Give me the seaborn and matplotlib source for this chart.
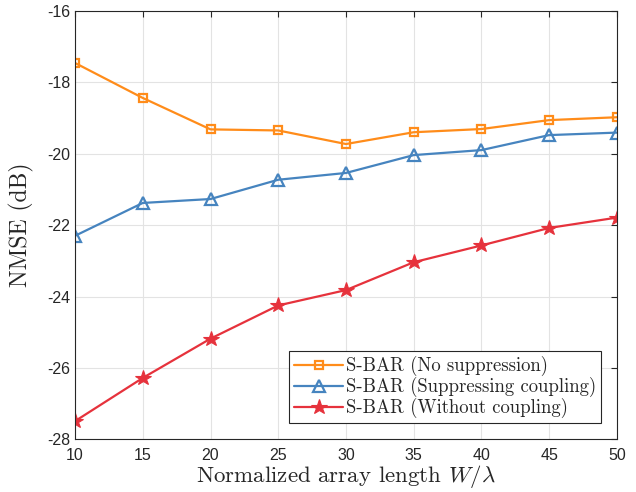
import numpy as np
import pandas as pd
import matplotlib
matplotlib.use("Agg")
import matplotlib.pyplot as plt
import seaborn as sns

# data
array_len = [10, 15, 20, 25, 30, 35, 40, 45, 50]
no_suppression = [-17.46, -18.44, -19.32, -19.35, -19.73, -19.40, -19.31, -19.06, -18.98]
suppressing = [-22.30, -21.38, -21.27, -20.73, -20.54, -20.04, -19.90, -19.48, -19.41]
without_coupling = [-27.49, -26.28, -25.18, -24.25, -23.82, -23.04, -22.57, -22.08, -21.79]

labels = ["S-BAR (No suppression)", "S-BAR (Suppressing coupling)", "S-BAR (Without coupling)"]
colors = ["#FF8C1A", "#4684BF", "#E6323C"]
markers = ["s", "^", "*"]
msizes = [6, 8, 11.5]

rows = []
for lab, vals in zip(labels, [no_suppression, suppressing, without_coupling]):
    for x, y in zip(array_len, vals):
        rows.append({"W": x, "NMSE": y, "scheme": lab})
df = pd.DataFrame(rows)

sns.set_theme(style="whitegrid")
plt.rcParams["font.family"] = ["Liberation Sans", "DejaVu Sans"]
plt.rcParams["mathtext.fontset"] = "cm"

fig = plt.figure(figsize=(6.36, 4.92), dpi=100)
ax = fig.add_axes([0.118, 0.107, 0.852, 0.871])

sns.lineplot(
    data=df, x="W", y="NMSE", hue="scheme", style="scheme",
    palette=colors, markers=markers, dashes=False, linewidth=1.6,
    legend=False, ax=ax,
)

for i, (line, ms) in enumerate(zip(ax.lines, msizes)):
    line.set_markersize(ms)
    line.set_markeredgewidth(1.6)
    line.set_markeredgecolor(colors[i])
    if i < 2:
        line.set_markerfacecolor("none")
    else:
        line.set_markerfacecolor(colors[i])
        line.set_markeredgewidth(0.8)

ax.set_xlim(10, 50)
ax.set_ylim(-28, -16)
ax.set_xticks(np.arange(10, 51, 5))
ax.set_yticks(np.arange(-28, -15, 2))
ax.set_yticklabels([str(v) for v in range(-28, -15, 2)])
ax.tick_params(labelsize=11.5, direction="in", top=True, right=True,
               length=4, width=0.8, color="#262626", labelcolor="#262626")
ax.tick_params(axis="x", pad=6)
ax.grid(True, color="#e3e3e3", linewidth=0.8)
ax.set_facecolor("white")
for s in ax.spines.values():
    s.set_color("#262626")
    s.set_linewidth(0.8)

serif = "cmr10"
ax.set_xlabel(r"Normalized array length $W/\lambda$", fontsize=16.5, family=serif, labelpad=0)
ax.set_ylabel("NMSE (dB)", fontsize=17, family=serif, labelpad=9)

leg = ax.legend(ax.lines, labels, loc="lower right", bbox_to_anchor=(0.970, 0.038),
                borderaxespad=0, fancybox=False, framealpha=1, edgecolor="#262626",
                prop={"family": serif, "size": 13.5}, handlelength=2.6,
                handletextpad=0.15, borderpad=0.25, labelspacing=0.05)
leg.get_frame().set_linewidth(0.8)

fig.savefig("out.png", dpi=100)
